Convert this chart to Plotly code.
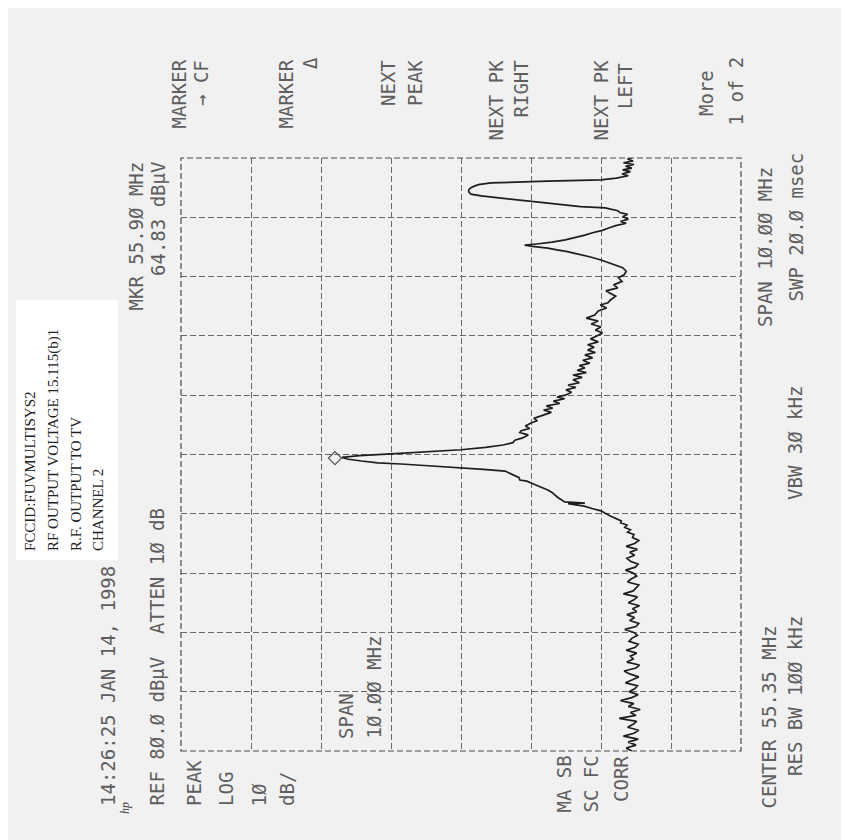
import plotly.graph_objects as go

W, H = 849, 840

# ---------------- analyzer settings ----------------
center_mhz = 55.35
span_mhz = 10.0
ref_level_dbuv = 80.0
db_per_div = 10.0
amp_divs = 8
freq_divs = 10
atten_db = 10
rbw_khz = 100
vbw_khz = 30
sweep_ms = 20.0
mkr_freq_mhz = 55.90
mkr_level_dbuv = 64.83
timestamp = "14:26:25 JAN 14, 1998"

# ---------------- trace (frequency MHz, level dBuV) ----------------
floor_freq = [
    50.35, 50.40, 50.45, 50.50, 50.55, 50.60, 50.65, 50.70, 50.75, 50.80,
    50.85, 50.90, 50.95, 51.00, 51.05, 51.10, 51.15, 51.20, 51.25, 51.30,
    51.35, 51.40, 51.45, 51.50, 51.55, 51.60, 51.65, 51.70, 51.75, 51.80,
    51.85, 51.90, 51.95, 52.00, 52.05, 52.10, 52.15, 52.20, 52.25, 52.30,
    52.35, 52.40, 52.45, 52.50, 52.55, 52.60, 52.65, 52.70, 52.75, 52.80,
    52.85, 52.90, 52.95, 53.00, 53.05, 53.10, 53.15, 53.20, 53.25, 53.30,
    53.35, 53.40, 53.45, 53.50, 53.55, 53.60, 53.65, 53.70, 53.75, 53.80,
    53.85, 53.90, 53.95,
]
floor_level = [
    15.6, 16.4, 15.0, 16.1, 14.7, 16.8, 15.3, 14.6, 16.2, 15.4,
    14.9, 17.4, 15.0, 15.8, 14.4, 16.1, 15.3, 17.2, 15.6, 14.7,
    16.0, 15.2, 14.8, 16.5, 15.5, 14.6, 15.9, 16.7, 15.0, 14.5,
    16.3, 15.4, 15.8, 14.9, 16.4, 15.1, 14.7, 16.0, 15.6, 14.8,
    15.3, 16.6, 15.0, 14.6, 15.9, 15.2, 16.3, 14.9, 15.5, 14.5,
    16.1, 15.3, 14.8, 16.8, 15.4, 15.0, 14.6, 16.2, 15.7, 14.9,
    15.4, 16.5, 15.1, 14.7, 15.8, 16.3, 15.2, 15.9, 14.8, 16.4,
    15.2, 14.6, 15.5,
]

carrier_lo_freq = [
    54.00, 54.04, 54.08, 54.12, 54.16, 54.20, 54.23, 54.27, 54.31, 54.36,
    54.40, 54.44, 54.48, 54.52, 54.53, 54.55, 54.59, 54.63, 54.67, 54.71,
    54.75, 54.79, 54.83, 54.87, 54.90, 54.92, 54.96, 54.99, 55.03, 55.07,
    55.10, 55.12, 55.14, 55.16, 55.19, 55.21, 55.24, 55.27, 55.30,
]
carrier_lo_level = [
    15.3, 16.2, 15.8, 16.6, 16.3, 17.2, 17.1, 18.0, 18.6, 19.4,
    20.0, 21.3, 22.4, 24.7, 22.3, 25.2, 25.8, 26.2, 26.6, 27.0,
    27.6, 28.5, 29.2, 30.0, 30.6, 31.6, 31.7, 32.3, 32.9, 33.7,
    36.8, 40.0, 42.5, 44.7, 48.6, 51.9, 54.2, 56.1, 57.0,
]

carrier_hi_freq = [
    55.33, 55.36, 55.39, 55.43, 55.47, 55.51, 55.55, 55.59, 55.63, 55.68,
    55.72, 55.75, 55.79, 55.83, 55.88, 55.92, 55.96, 56.02, 56.06, 56.10,
    56.13, 56.17, 56.21, 56.25, 56.29, 56.32, 56.35, 56.40, 56.44, 56.48,
    56.52, 56.56, 56.61, 56.65, 56.69, 56.73, 56.77, 56.81, 56.85, 56.89,
    56.94, 56.98, 57.03, 57.07, 57.11, 57.16, 57.20, 57.25, 57.30, 57.35,
    57.40, 57.45, 57.50, 57.55, 57.60, 57.65, 57.70, 57.77, 57.82, 57.87,
    57.91, 57.96, 58.02, 58.07, 58.11, 58.16, 58.21, 58.27, 58.33, 58.38,
    58.44, 58.50,
]
carrier_hi_level = [
    54.5, 50.0, 45.0, 40.0, 36.5, 34.0, 32.6, 32.3, 31.2, 30.4,
    31.6, 31.4, 30.2, 30.8, 30.0, 29.1, 29.6, 28.0, 27.1, 28.2,
    26.9, 27.8, 25.9, 26.8, 25.2, 26.3, 25.1, 24.2, 25.0, 23.6,
    24.7, 23.1, 24.0, 22.7, 24.0, 22.1, 23.4, 22.3, 23.1, 21.6,
    22.6, 21.2, 22.3, 20.8, 21.9, 21.0, 21.9, 20.4, 21.5, 20.6,
    19.8, 20.8, 20.0, 21.4, 20.4, 22.1, 20.9, 20.4, 19.2, 20.1,
    19.0, 18.6, 17.9, 18.7, 19.3, 17.6, 18.2, 17.0, 17.5, 16.7,
    16.4, 16.9,
]

upper_freq = [
    58.53, 58.58, 58.63, 58.68, 58.72, 58.77, 58.80, 58.83, 58.86, 58.88,
    58.90, 58.93, 58.97, 59.01, 59.05, 59.09, 59.13, 59.17, 59.21, 59.25,
    59.28, 59.32, 59.36, 59.40, 59.43, 59.46, 59.49, 59.51, 59.53, 59.56,
    59.59, 59.62, 59.65, 59.68, 59.71, 59.74, 59.78, 59.81, 59.85, 59.88,
    59.90, 59.93, 59.95, 59.96, 59.98, 60.01, 60.05, 60.08, 60.12, 60.15,
    60.18, 60.21, 60.24, 60.27, 60.30, 60.33, 60.35,
]
upper_level = [
    17.6, 18.8, 20.0, 21.5, 22.9, 24.8, 26.3, 27.6, 29.8, 30.9,
    29.2, 27.0, 25.1, 23.6, 22.3, 21.2, 19.8, 18.9, 17.9, 16.4,
    17.2, 16.1, 16.9, 16.2, 17.3, 17.6, 18.5, 19.4, 22.9, 25.3,
    27.6, 30.0, 32.3, 34.8, 37.1, 38.6, 38.9, 38.9, 38.6, 38.0,
    37.5, 35.7, 31.5, 27.6, 20.0, 17.8, 16.1, 17.0, 15.8, 16.9,
    15.6, 16.5, 15.3, 16.8, 15.4, 16.2, 15.6,
]

marker_freq = [55.29]
marker_level = [58.0]

softkeys = [("MARKER", "→ CF"), ("MARKER", "Δ"), ("NEXT", "PEAK"),
            ("NEXT PK", "RIGHT"), ("NEXT PK", "LEFT"), ("More", "1 of 2")]
label_lines = ["FCCID:FUVMULTISYS2", "RF OUTPUT VOLTAGE 15.115(b)1",
               "R.F. OUTPUT TO TV", "CHANNEL 2"]

# ---------------- build ----------------
freq = floor_freq + carrier_lo_freq + carrier_hi_freq + upper_freq
level = floor_level + carrier_lo_level + carrier_hi_level + upper_level

f_start = center_mhz - span_mhz / 2
f_stop = center_mhz + span_mhz / 2

BG = "#f1f1f1"
GRID = "#6a6a6a"
TXT = "#5e5e5e"
MONO = "DejaVu Sans Mono"


def z(s):
    return s.replace("0", "Ø")


fig = go.Figure()
fig.add_trace(go.Scatter(x=level, y=freq, mode="lines",
                         line=dict(color="#1e1e1e", width=1.7),
                         hoverinfo="skip"))
fig.add_trace(go.Scatter(x=marker_level, y=marker_freq, mode="markers",
                         marker=dict(symbol="diamond-open", size=10,
                                     color="#505050", line=dict(width=1.2)),
                         hoverinfo="skip"))

GX0, GX1 = 173, 733
GY0, GY1 = 150, 743
dash = "6px,3px"

fig.update_layout(
    width=W, height=H, margin=dict(l=0, r=0, t=0, b=0),
    paper_bgcolor=BG, plot_bgcolor=BG, showlegend=False,
    xaxis=dict(domain=[GX0 / W, GX1 / W],
               range=[ref_level_dbuv, ref_level_dbuv - amp_divs * db_per_div],
               tick0=0, dtick=db_per_div, showgrid=True, gridcolor=GRID,
               griddash=dash, gridwidth=1, zeroline=False,
               showticklabels=False, ticks="", showline=False, fixedrange=True),
    yaxis=dict(domain=[1 - GY1 / H, 1 - GY0 / H], range=[f_start, f_stop],
               tick0=f_start, dtick=span_mhz / freq_divs, showgrid=True,
               gridcolor=GRID, griddash=dash, gridwidth=1, zeroline=False,
               showticklabels=False, ticks="", showline=False, fixedrange=True),
)

# graticule border
fig.add_shape(type="rect", xref="x domain", yref="y domain", x0=0, x1=1,
              y0=0, y1=1, line=dict(color="#4a4a4a", width=1.2, dash=dash))
# pasted white label
fig.add_shape(type="rect", xref="paper", yref="paper", x0=8 / W, x1=110 / W,
              y0=1 - 552 / H, y1=1 - 292 / H, fillcolor="#ffffff",
              line=dict(width=0), layer="below")
# scan edge
fig.add_shape(type="rect", xref="paper", yref="paper", x0=845 / W, x1=1,
              y0=0, y1=1, fillcolor="#3c3c3c", line=dict(width=0))


def vtext(s, xp, yp, anchor, size=19, color=TXT, family=MONO):
    fig.add_annotation(x=xp / W, y=1 - yp / H, xref="paper", yref="paper",
                       text=s, textangle=-90, showarrow=False,
                       xanchor="center", yanchor=anchor,
                       font=dict(family=family, size=size, color=color))


# header
vtext(timestamp, 100, 800, "bottom")
vtext("<i>hp</i>", 117, 808, "bottom", size=12, color="#444",
      family="Liberation Serif")
vtext(z(f"REF {ref_level_dbuv:.1f} dBµV  ATTEN {atten_db} dB"), 148, 800, "bottom")
vtext(z(f"MKR {mkr_freq_mhz:.2f} MHz"), 127, 152, "top")
vtext(z(f"{mkr_level_dbuv:.2f} dBµV"), 150, 152, "top")

# left column
for s, xp in [("PEAK", 186), ("LOG", 218), (z(f"{db_per_div:.0f}"), 250), ("dB/", 279)]:
    vtext(s, xp, 800, "bottom")
vtext("SPAN", 338, 733, "bottom")
vtext(z(f"{span_mhz:.2f} MHz"), 365, 733, "bottom")
for s, xp in [("MA SB", 555), ("SC FC", 582), ("CORR", 613)]:
    vtext(s, xp, 746, "top")

# footer
vtext(z(f"CENTER {center_mhz:.2f} MHz"), 760, 803, "bottom")
vtext(z(f"RES BW {rbw_khz} kHz"), 787, 770, "bottom")
vtext(z(f"VBW {vbw_khz} kHz"), 787, 435, "middle")
vtext(z(f"SPAN {span_mhz:.2f} MHz"), 757, 157, "top")
vtext(z(f"SWP {sweep_ms:.1f} msec"), 787, 143, "top")

# softkeys
sk_x = [(170, 193), (277, 302), (380, 407), (487, 512), (592, 617), (698, 727)]
sk_top = [(50, 50), (50, 47), (50, 50), (50, 50), (50, 53), (60, 47)]
for (a, b), (xa, xb), (ya, yb) in zip(softkeys, sk_x, sk_top):
    vtext(a, xa, ya, "top")
    vtext(b, xb, yb, "top")

# pasted label text
for s, xp in zip(label_lines, [22, 45, 68, 90]):
    vtext(s, xp, 545, "bottom", size=15, color="#222222",
          family="Liberation Serif")

fig.write_html("out.html")
